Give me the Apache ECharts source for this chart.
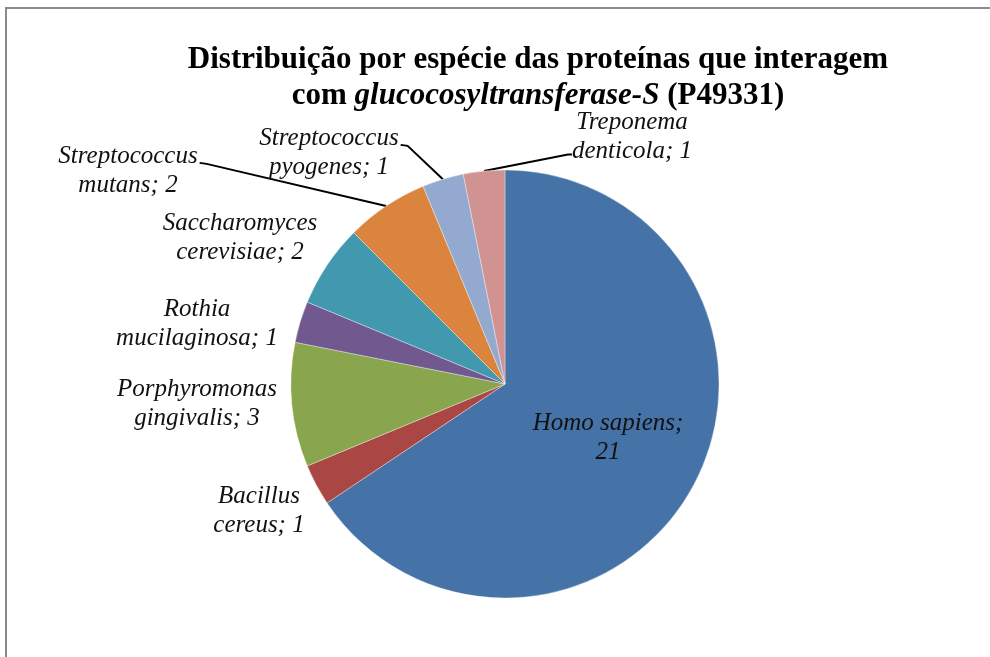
<!DOCTYPE html>
<html>
<head>
<meta charset="utf-8">
<script src="https://cdn.jsdelivr.net/npm/echarts@6/dist/echarts.min.js"></script>
<style>
  html, body { margin: 0; padding: 0; background: #ffffff; }
  #chart { width: 990px; height: 657px; }
</style>
</head>
<body>
<div id="chart"></div>
<script>
// Species of the proteins interacting with glucocosyltransferase-S, clockwise from 12 o'clock
const speciesGenus = ['Homo sapiens', 'Bacillus', 'Porphyromonas', 'Rothia', 'Saccharomyces', 'Streptococcus', 'Streptococcus', 'Treponema'];
const speciesEpithet = ['', 'cereus', 'gingivalis', 'mucilaginosa', 'cerevisiae', 'mutans', 'pyogenes', 'denticola'];
const proteinCounts = [21, 1, 3, 1, 2, 2, 1, 1];

const sliceColors = ['#4572A7', '#AA4643', '#89A54E', '#71588F', '#4198AF', '#DB843D', '#93A9CF', '#D19392'];

// Where each label block is centred, and which side its leader line leaves from
const labelCenters = [[608, 438], [259, 511], [197, 404], [197, 324], [240, 238], [128, 171], [329, 153], [632, 137]];
const leaderSide = [null, null, null, null, null, 'right', 'right', 'left'];

const fullName = i => speciesEpithet[i] ? speciesGenus[i] + ' ' + speciesEpithet[i] : speciesGenus[i];

const chart = echarts.init(document.getElementById('chart'), null, { renderer: 'canvas' });

const serif = '"Liberation Serif", "Times New Roman", serif';

chart.setOption({
  backgroundColor: '#ffffff',
  animation: false,
  title: {
    text: '{b|Distribuição por espécie das proteínas que interagem}\n{b|com }{i|glucocosyltransferase-S}{b| (P49331)}',
    left: 533,
    top: 37,
    textAlign: 'center',
    textStyle: {
      rich: {
        b: { fontFamily: serif, fontWeight: 'bold', fontSize: 31, color: '#000', lineHeight: 36 },
        i: { fontFamily: serif, fontWeight: 'bold', fontStyle: 'italic', fontSize: 31, color: '#000', lineHeight: 36 }
      }
    }
  },
  graphic: [{
    type: 'polyline',
    shape: { points: [[6, 660], [6, 8], [995, 8]] },
    style: { stroke: '#8a8a8a', lineWidth: 2, fill: null },
    silent: true
  }],
  series: [{
    type: 'pie',
    center: [505, 384],
    radius: 214,
    startAngle: 90,
    clockwise: true,
    data: proteinCounts.map((v, i) => ({
      name: fullName(i),
      value: v,
      itemStyle: { color: sliceColors[i] },
      labelLine: { show: leaderSide[i] !== null }
    })),
    itemStyle: { borderColor: 'rgba(255,255,255,0.35)', borderWidth: 1 },
    label: {
      show: true,
      position: 'outside',
      fontFamily: serif,
      fontStyle: 'italic',
      fontSize: 25,
      lineHeight: 29,
      color: '#111',
      align: 'center',
      formatter: p => {
        const i = p.dataIndex;
        return speciesEpithet[i]
          ? speciesGenus[i] + '\n' + speciesEpithet[i] + '; ' + p.value
          : speciesGenus[i] + ';\n' + p.value;
      }
    },
    labelLine: {
      show: true,
      length: 10,
      length2: 10,
      lineStyle: { color: '#000', width: 2 }
    },
    labelLayout: params => {
      const i = params.dataIndex;
      const [cx, cy] = labelCenters[i];
      const w = params.labelRect.width;
      const h = params.labelRect.height;
      const out = { x: cx, y: cy, align: 'center', verticalAlign: 'middle' };
      const pts = params.labelLinePoints;
      if (leaderSide[i] && pts) {
        const top = cy - h / 2;
        let end, elbow;
        if (leaderSide[i] === 'right') {
          end = [cx + w / 2 + 2, top + h * 0.36];
          elbow = [end[0] + 7, end[1] + 1];
        } else {
          end = [cx - w / 2, top + h * 0.8];
          elbow = [end[0] - 4, end[1]];
        }
        out.labelLinePoints = [pts[0], elbow, end];
      }
      return out;
    }
  }]
});
</script>
</body>
</html>
